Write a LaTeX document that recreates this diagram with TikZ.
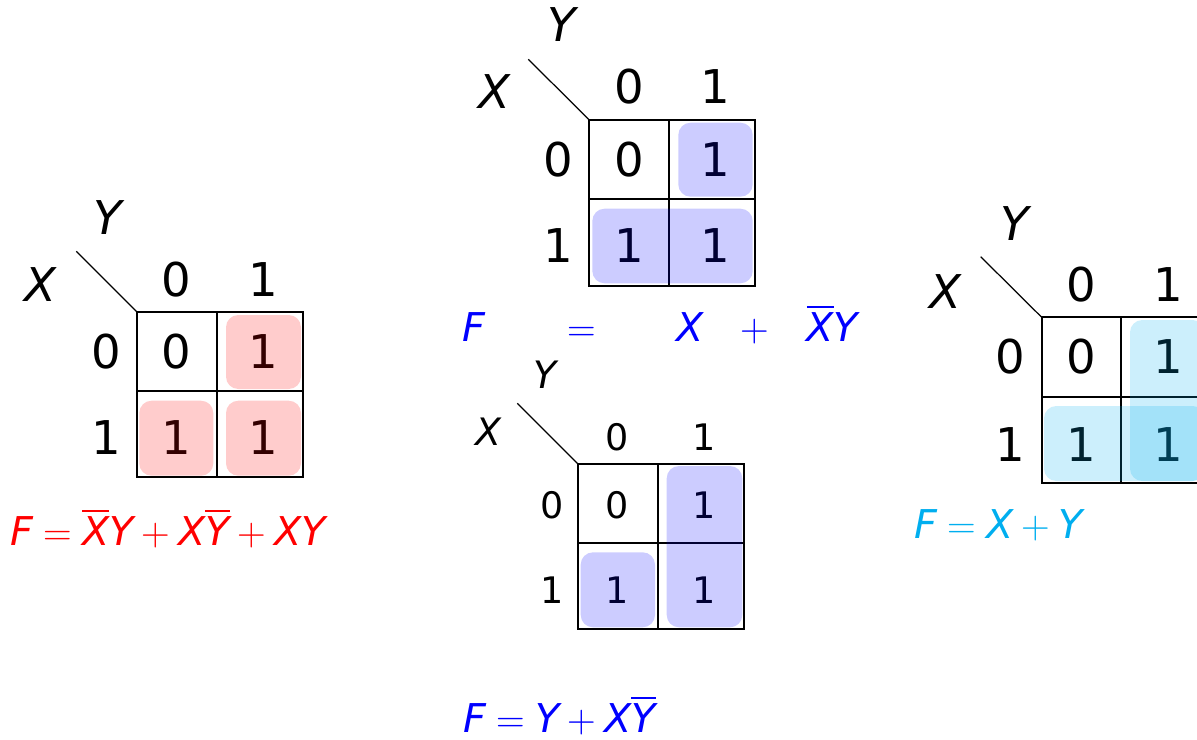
\documentclass[tikz,border=0pt]{standalone}
\usepackage{fontspec}
\setmainfont{DejaVu Sans}
\newfontfamily\kmath{Latin Modern Roman}
\usepackage{amsmath}
\definecolor{kcyan}{RGB}{0,174,239}
\newcommand{\kv}[1]{\mbox{\itshape #1}}
\newcommand{\keq}{\mathrel{\mbox{\kmath =}}}
\newcommand{\kplus}{\mathbin{\mbox{\kmath +}}}
\tikzset{
kbig/.style={inner sep=0pt,font=\fontsize{26.5}{30}\selectfont},
ksmall/.style={inner sep=0pt,font=\fontsize{20.8}{24}\selectfont},
klabel/.style={inner sep=0pt,font=\fontsize{26.5}{30}\selectfont\itshape},
klabelsmall/.style={inner sep=0pt,font=\fontsize{21.5}{24}\selectfont\itshape},
kform/.style={inner sep=0pt,anchor=base west,font=\fontsize{22.6}{26}\selectfont},
kgrid/.style={line width=1.1pt},
kdiag/.style={line width=0.7pt},
hlred/.style={fill=red,opacity=0.2,rounded corners=7pt},
hlblue/.style={fill=blue,opacity=0.2,rounded corners=7pt},
hlcyan/.style={fill=kcyan,opacity=0.2,rounded corners=7pt}
}
\begin{document}
\begin{tikzpicture}[x=0.02cm,y=-0.02cm]
\useasboundingbox (0,0) rectangle (1197,740);
\clip (0,0) rectangle (1197,740);
% left map
\coordinate (aD) at (76.3,251.3);
\coordinate (aC) at (137.3,312.3);
\draw[kdiag] (aD) -- (aC);
\draw[kgrid] (aC) rectangle (302.7,477.3);
\draw[kgrid] (216.7,312.3) -- (216.7,477.3) (137.3,391.3) -- (302.7,391.3);
\node[klabel] (aY) at (108,218) {Y};
\node[klabel] (aX) at (40,285) {X};
\node[kbig] (ac0) at (176.7,280) {0};
\node[kbig] (ac1) at (263,280) {1};
\node[kbig] (ar0) at (106,352) {0};
\node[kbig] (ar1) at (106,438) {1};
\node[kbig] (a00) at (176.7,352) {0};
\node[kbig] (a01) at (263,352) {1};
\node[kbig] (a10) at (176.7,438) {1};
\node[kbig] (a11) at (263,438) {1};
\fill[hlred] (226,315) rectangle (301,389);
\fill[hlred] (139.3,400.7) rectangle (213.3,475.7);
\fill[hlred] (226,400.7) rectangle (301,475.7);
\node[kform,text=red] (aF) at (10,545)
  {$\kv{F}\keq\overline{\kv{X}}\kv{Y}\kplus\kv{X}\overline{\kv{Y}}\kplus\kv{X}\kv{Y}$};
% top middle map
\coordinate (bD) at (528.3,59.3);
\coordinate (bC) at (589.3,120);
\draw[kdiag] (bD) -- (bC);
\draw[kgrid] (bC) rectangle (755.3,285.7);
\draw[kgrid] (669,120) -- (669,285.7) (589.3,199.3) -- (755.3,199.3);
\node[klabel] (bY) at (561.7,25) {Y};
\node[klabel] (bX) at (494.3,91.7) {X};
\node[kbig] (bc0) at (629.3,86.7) {0};
\node[kbig] (bc1) at (715.7,86.7) {1};
\node[kbig] (br0) at (558.3,160) {0};
\node[kbig] (br1) at (558.3,245.7) {1};
\node[kbig] (b00) at (629.3,160) {0};
\node[kbig] (b01) at (715.7,160) {1};
\node[kbig] (b10) at (629.3,245.7) {1};
\node[kbig] (b11) at (715.7,245.7) {1};
\fill[hlblue] (678.3,122.7) rectangle (752.7,196.7);
\fill[hlblue] (592.3,208.7) rectangle (752.7,283.3);
\node[kform,anchor=base,text=blue] (bF) at (474,341) {$\kv{F}$};
\node[kform,anchor=base,text=blue] (bEq) at (581.7,341) {\kmath =};
\node[kform,anchor=base,text=blue] (bT1) at (689.7,341) {$\kv{X}$};
\node[kform,anchor=base,text=blue] (bPl) at (755,341) {\kmath +};
\node[kform,anchor=base,text=blue] (bT2) at (832.5,341) {$\overline{\kv{X}}\kv{Y}$};
% bottom middle map
\coordinate (cD) at (517.3,403.3);
\coordinate (cC) at (578.3,464.3);
\draw[kdiag] (cD) -- (cC);
\draw[kgrid] (cC) rectangle (743.7,629.3);
\draw[kgrid] (657.7,464.3) -- (657.7,629.3) (578.3,543.3) -- (743.7,543.3);
\node[klabelsmall] (cY) at (545,375) {Y};
\node[klabelsmall] (cX) at (488.3,431.7) {X};
\node[ksmall] (cc0) at (617.3,437.3) {0};
\node[ksmall] (cc1) at (704,437.3) {1};
\node[ksmall] (cr0) at (551.7,505) {0};
\node[ksmall] (cr1) at (551.7,590) {1};
\node[ksmall] (c00) at (617.3,505) {0};
\node[ksmall] (c01) at (704,505) {1};
\node[ksmall] (c10) at (617.3,590) {1};
\node[ksmall] (c11) at (704,590) {1};
\fill[hlblue] (580.7,552.3) rectangle (655,627.3);
\fill[hlblue] (666.7,466) rectangle (742.3,627.3);
\node[kform,text=blue] (cF) at (463,732) {$\kv{F}\keq\kv{Y}\kplus\kv{X}\overline{\kv{Y}}$};
% right map
\coordinate (dD) at (980.7,256.7);
\coordinate (dC) at (1041.7,317.3);
\draw[kdiag] (dD) -- (dC);
\draw[kgrid] (dC) rectangle (1207,483.3);
\draw[kgrid] (1121,317.3) -- (1121,483.3) (1041.7,397.3) -- (1207,397.3);
\node[klabel] (dY) at (1015,223.3) {Y};
\node[klabel] (dX) at (945,291.7) {X};
\node[kbig] (dc0) at (1081.7,285) {0};
\node[kbig] (dc1) at (1168.3,285) {1};
\node[kbig] (dr0) at (1010,356.7) {0};
\node[kbig] (dr1) at (1010,445) {1};
\node[kbig] (d00) at (1081.7,356.7) {0};
\node[kbig] (d01) at (1168.3,356.7) {1};
\node[kbig] (d10) at (1081.7,445) {1};
\node[kbig] (d11) at (1168.3,445) {1};
\fill[hlcyan] (1130,320) rectangle (1205,481);
\fill[hlcyan] (1044,406) rectangle (1205,481);
\node[kform,text=kcyan] (dF) at (914.5,538.3) {$\kv{F}\keq\kv{X}\kplus\kv{Y}$};
\end{tikzpicture}
\end{document}
